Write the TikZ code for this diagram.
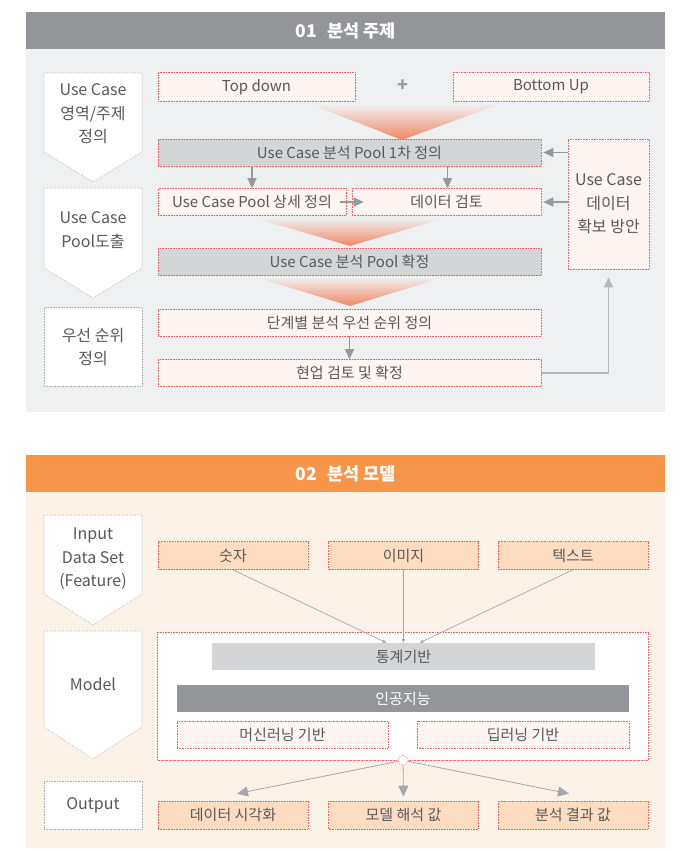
\documentclass[tikz,border=0pt]{standalone}
\usepackage{fontspec}
\setmainfont{Noto Sans CJK KR}
\usetikzlibrary{arrows.meta, positioning}
\definecolor{headgray}{RGB}{147,149,152}
\definecolor{bodygray}{RGB}{239,240,242}
\definecolor{headorange}{RGB}{247,150,75}
\definecolor{bodypeach}{RGB}{253,242,231}
\definecolor{boxpink}{RGB}{254,244,241}
\definecolor{boxgray}{RGB}{212,213,215}
\definecolor{boxpeach}{RGB}{253,220,192}
\definecolor{dotred}{RGB}{238,100,100}
\definecolor{txtgray}{RGB}{88,89,91}
\definecolor{arrgray}{RGB}{150,152,156}
\definecolor{funnel}{RGB}{241,135,100}

\begin{document}
\begin{tikzpicture}[
      x=1pt, y=-1pt,
      every node/.style={font=\fontsize{15}{18}\selectfont, text=txtgray, inner sep=0pt},
      header/.style={fill=#1, minimum width=639pt, minimum height=37pt,
        font=\fontsize{17.5}{20}\selectfont\bfseries, text=white},
      stepbox/.style={draw=dotred, densely dotted, line width=0.6pt, fill=boxpink,
        minimum height=27pt},
      poolbox/.style={stepbox, fill=boxgray},
      featbox/.style={stepbox, fill=boxpeach, minimum width=150pt, minimum height=28pt},
      sidebox/.style={draw=arrgray!80, densely dotted, line width=0.6pt, fill=white},
      sidetext/.style={align=center, font=\fontsize{16}{23.5}\selectfont},
      arr/.style={-{Triangle[length=10pt, width=9pt]}, line width=1.2pt, color=arrgray},
      feed/.style={-{Triangle[length=4pt, width=3pt]}, line width=0.7pt, color=arrgray!85},
      fan/.style={-{Triangle[length=11pt, width=10pt]}, line width=0.8pt, color=arrgray!85}
    ]
      \useasboundingbox (0,0) rectangle (682,850);
      % panel 01
      \fill[bodygray] (26,49) rectangle (665,412);
      \node[header=headgray] (head1) at (345.5,31) {01\hspace{0.6em}분석 주제};
      \draw[sidebox] (44,73) -- (142,73) -- (142,152) -- (93,182) -- (44,152) -- cycle;
      \node[sidetext] (stage1) at (93,114) {Use Case\\영역/주제\\정의};
      \draw[sidebox] (44,188) -- (142,188) -- (142,268) -- (93,298) -- (44,268) -- cycle;
      \node[sidetext] (stage2) at (93,230) {Use Case\\Pool도출};
      \node[sidebox, minimum width=98pt, minimum height=79pt] (stage3) at (93,347) {};
      \node[sidetext] at (stage3) {우선 순위\\정의};

      \node[stepbox, minimum width=197pt, minimum height=29pt] (topdown) at (256.5,87) {Top down};
      \node[font=\fontsize{18}{18}\selectfont\bfseries, text=arrgray] (plus) at (403,86) {+};
      \node[stepbox, minimum width=196pt, minimum height=29pt] (bottomup) at (551,87) {Bottom Up};
      \shade[top color=bodygray, bottom color=funnel] (310,104) -- (500,104) -- (402,140) -- cycle;

      \node[poolbox, minimum width=383pt] (pool1) at (349.5,152.5) {Use Case 분석 Pool 1차 정의};
      \node[stepbox, minimum width=188pt] (detail) at (252,202) {Use Case Pool 상세 정의};
      \node[stepbox, minimum width=189pt] (dcheck) at (446.5,202) {데이터 검토};
      \shade[top color=bodygray, bottom color=funnel] (255,218) -- (445,218) -- (350,246) -- cycle;
      \node[poolbox, minimum width=383pt] (pool2) at (349.5,262) {Use Case 분석 Pool 확정};
      \shade[top color=bodygray, bottom color=funnel] (255,277) -- (445,277) -- (350,306) -- cycle;
      \node[stepbox, minimum width=383pt] (priority) at (349.5,322.5) {단계별 분석 우선 순위 정의};
      \node[stepbox, minimum width=383pt] (review) at (349.5,373) {현업 검토 및 확정};
      \node[stepbox, minimum width=81pt, minimum height=130pt, align=center,
        font=\fontsize{16}{23.5}\selectfont] (secure) at (608.5,204) {Use Case\\데이터\\확보 방안};

      \draw[arr] (pool1.south -| detail.north) -- (detail.north);
      \draw[arr] (pool1.south -| dcheck.north) ++(1,0) -- ([xshift=1pt]dcheck.north);
      \draw[arr] ([xshift=-6pt]detail.east) -- ([xshift=12pt]dcheck.west);
      \draw[arr] (secure.west |- pool1) -- ([xshift=2pt]pool1.east);
      \draw[arr] (secure.west |- dcheck) -- ([xshift=2pt]dcheck.east);
      \draw[arr] (priority) ++(0,13.5) -- (review.north);
      \draw[arr, line width=1.4pt, color=arrgray!70] (review.east) -| ([yshift=-8pt]secure.south);

      % panel 02
      \fill[bodypeach] (26,492) rectangle (665,848);
      \node[header=headorange] (head2) at (345.5,473.5) {02\hspace{0.6em}분석 모델};
      \draw[sidebox] (44,515) -- (142,515) -- (142,594) -- (93,625) -- (44,594) -- cycle;
      \node[sidetext] (input) at (93,559) {Input\\Data Set\\(Feature)};
      \draw[sidebox] (44,631) -- (142,631) -- (142,727) -- (93,759) -- (44,727) -- cycle;
      \node[sidetext] (modeltag) at (93,684) {Model};
      \node[sidebox, minimum width=98pt, minimum height=48pt] (outtag) at (93,805) {};
      \node[sidetext] at (outtag) {Output};

      \node[featbox] (num) at (233,555.5) {숫자};
      \node[featbox] (img) at (403.5,555.5) {이미지};
      \node[featbox] (txt) at (573,555.5) {텍스트};

      \node[stepbox, fill=white, minimum width=491pt, minimum height=128pt] (model) at (403,696) {};
      \node[fill=boxgray, minimum width=383pt, minimum height=27pt] (stat) at (403.5,656.5) {통계기반};
      \node[fill=headgray, text=white, minimum width=452pt, minimum height=27pt] (ai) at (403,698.5) {인공지능};
      \node[stepbox, minimum width=211pt] (ml) at (282.5,734.5) {머신러닝 기반};
      \node[stepbox, minimum width=212pt] (dl) at (523,734.5) {딥러닝 기반};

      \draw[feed] (num.south) -- ([xshift=-17pt]stat.north);
      \draw[feed] (img.south) -- (stat.north);
      \draw[feed] (txt.south) -- ([xshift=16pt]stat.north);

      \node[featbox] (vis) at (233,815) {데이터 시각화};
      \node[featbox] (interp) at (403.5,815) {모델 해석 값};
      \node[featbox] (result) at (573,815) {분석 결과 값};

      \node[circle, draw=dotred, densely dotted, line width=0.6pt, fill=white,
        minimum size=10pt] (hub) at (model.south) {};
      \draw[fan] (hub) -- ([xshift=4pt, yshift=7pt]vis.north);
      \draw[fan] (hub) -- ([yshift=4pt]interp.north);
      \draw[fan] (hub) -- ([xshift=-4pt, yshift=7pt]result.north);
    \end{tikzpicture}
\end{document}
